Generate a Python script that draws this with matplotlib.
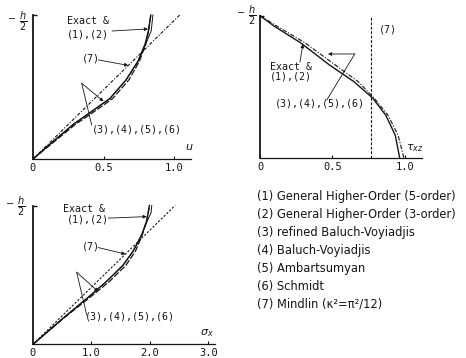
import numpy as np
import matplotlib
matplotlib.use("Agg")
import matplotlib.pyplot as plt

# Through-thickness distributions, z normalised by h/2 (0 = mid-plane, 1 = top face)

# displacement u
z_u = [0.0, 0.12, 0.24, 0.34, 0.42, 0.55, 0.68, 0.80, 0.89, 1.0]
u_exact = [0.0, 0.14, 0.285, 0.43, 0.545, 0.66, 0.745, 0.795, 0.818, 0.835]
u_12 = [0.0, 0.14, 0.285, 0.43, 0.545, 0.66, 0.745, 0.80, 0.838, 0.85]
u_3456 = [0.0, 0.15, 0.30, 0.45, 0.565, 0.68, 0.755, 0.80, 0.82, 0.835]
u_mindlin_top = 1.04

# transverse shear stress tau_xz
z_t = [1.0, 0.925, 0.81, 0.654, 0.536, 0.42, 0.30, 0.16, 0.0]
tau_exact = [0.0, 0.10, 0.28, 0.48, 0.65, 0.78, 0.87, 0.935, 0.966]
tau_3456 = [0.0, 0.12, 0.31, 0.52, 0.68, 0.79, 0.885, 0.955, 0.995]
tau_mindlin = 0.77

# bending stress sigma_x
z_s = [0.0, 0.19, 0.33, 0.45, 0.57, 0.67, 0.79, 0.885, 0.95, 1.0]
sig_exact = [0.0, 0.52, 0.92, 1.25, 1.54, 1.71, 1.86, 1.94, 1.97, 1.99]
sig_12 = [0.0, 0.52, 0.92, 1.25, 1.54, 1.71, 1.86, 1.95, 2.02, 2.03]
sig_3456 = [0.0, 0.53, 0.95, 1.30, 1.59, 1.75, 1.87, 1.94, 1.97, 1.99]
sig_mindlin_top = 2.43

legend_lines = [
    "(1) General Higher-Order (5-order)",
    "(2) General Higher-Order (3-order)",
    "(3) refined Baluch-Voyiadjis",
    "(4) Baluch-Voyiadjis",
    "(5) Ambartsumyan",
    "(6) Schmidt",
    "(7) Mindlin (\u03ba\u00b2=\u03c0\u00b2/12)",
]

INK = "#151515"
MONO = "DejaVu Sans Mono"
W, H = 466, 358


# Place an axes by its pixel box (left, top, right, bottom)
def add_axes_px(fig, left, top, right, bottom):
    return fig.add_axes([left / W, 1 - bottom / H, (right - left) / W, (bottom - top) / H])


# Bare axes: left and bottom lines, one tick at z = h/2
def setup_axes(ax, xmax, xticks, xlabels, xname, xname_pos):
    ax.set_xlim(0, xmax)
    ax.set_ylim(0, 1)
    ax.patch.set_visible(False)
    for side in ["top", "right"]:
        ax.spines[side].set_visible(False)
    ax.spines["left"].set_linewidth(1.3)
    ax.spines["bottom"].set_linewidth(0.9)
    ax.spines["left"].set_color(INK)
    ax.spines["bottom"].set_color(INK)
    ax.set_yticks([1.0])
    ax.set_yticklabels([])
    ax.tick_params(axis="y", direction="in", length=3, width=1.0, color=INK)
    ax.set_xticks(xticks)
    ax.set_xticklabels(xlabels, fontfamily=MONO, fontsize=7.5, color=INK)
    ax.tick_params(axis="x", direction="in", length=2, width=0.8, pad=3, color=INK)
    ax.text(xname_pos[0], xname_pos[1], xname, fontsize=8, color=INK, ha="left", va="center")


def note(ax, text, xy):
    ax.text(xy[0], xy[1], text, fontfamily=MONO, fontsize=7.2, color=INK, ha="left", va="center")


def arrow(ax, start, end):
    ax.annotate("", xy=end, xytext=start,
                arrowprops=dict(arrowstyle="-|>", lw=0.6, color=INK, mutation_scale=5,
                                shrinkA=0, shrinkB=0))


def plain_line(ax, start, end):
    ax.plot([start[0], end[0]], [start[1], end[1]], color=INK, lw=0.6)


# Fraction h/2 with a leading dash beside the top of a z axis
def h_half_label(fig, x, y):
    fig.text((x - 11) / W, 1 - (y - 2) / H, "\u2212", fontsize=7, color=INK, ha="center", va="center")
    fig.text(x / W, 1 - y / H, r"$\frac{h}{2}$", fontsize=10, color=INK, ha="center", va="center")


def plot_u(ax):
    setup_axes(ax, 1.12, [0, 0.5, 1.0], ["0", "0.5", "1.0"], r"$u$", (1.08, 0.08))
    kw = dict(clip_on=False)
    ax.plot([0, u_mindlin_top], [0, 1.0], color=INK, lw=0.8, ls=(0, (3, 1.5, 1, 1.5)), **kw)
    ax.plot(u_3456, z_u, color=INK, lw=0.9, ls=(0, (5, 1.5)), **kw)
    ax.plot(u_exact, z_u, color=INK, lw=1.0, **kw)
    ax.plot(u_12, z_u, color=INK, lw=0.7, **kw)

    note(ax, "Exact &", (0.239, 0.958))
    note(ax, "(1),(2)", (0.239, 0.866))
    arrow(ax, (0.56, 0.889), (0.815, 0.903))
    note(ax, "(7)", (0.345, 0.70))
    arrow(ax, (0.463, 0.688), (0.675, 0.65))
    note(ax, "(3),(4),(5),(6)", (0.416, 0.208))
    plain_line(ax, (0.416, 0.236), (0.345, 0.526))
    arrow(ax, (0.345, 0.526), (0.50, 0.40))


def plot_tau(ax):
    setup_axes(ax, 1.12, [0, 0.5, 1.0], ["0", "0.5", "1.0"], r"$\tau_{xz}$", (1.01, 0.07))
    kw = dict(clip_on=False)
    ax.plot(tau_3456, z_t, color=INK, lw=0.8, ls=(0, (4, 1.5, 1, 1.5)), **kw)
    ax.plot(tau_exact, z_t, color=INK, lw=1.0, **kw)
    ax.axvline(tau_mindlin, color=INK, lw=0.8, ls=(0, (2.5, 1.5)))

    note(ax, "(7)", (0.82, 0.90))
    note(ax, "Exact &", (0.069, 0.64))
    note(ax, "(1),(2)", (0.069, 0.57))
    arrow(ax, (0.276, 0.675), (0.297, 0.80))
    note(ax, "(3),(4),(5),(6)", (0.103, 0.38))
    plain_line(ax, (0.462, 0.408), (0.655, 0.731))
    arrow(ax, (0.655, 0.731), (0.47, 0.731))


def plot_sigma(ax):
    setup_axes(ax, 3.12, [0, 1.0, 2.0, 3.0], ["0", "1.0", "2.0", "3.0"], r"$\sigma_x$", (2.85, 0.08))
    kw = dict(clip_on=False)
    ax.plot([0, sig_mindlin_top], [0, 1.0], color=INK, lw=0.8, ls=(0, (2, 1.5)), **kw)
    ax.plot(sig_3456, z_s, color=INK, lw=0.9, ls=(0, (5, 1.5)), **kw)
    ax.plot(sig_exact, z_s, color=INK, lw=1.0, **kw)
    ax.plot(sig_12, z_s, color=INK, lw=0.7, **kw)

    note(ax, "Exact &", (0.518, 0.976))
    note(ax, "(1),(2)", (0.576, 0.90))
    arrow(ax, (1.287, 0.909), (1.944, 0.92))
    note(ax, "(7)", (0.832, 0.704))
    arrow(ax, (1.116, 0.697), (1.58, 0.65))
    note(ax, "(3),(4),(5),(6)", (0.889, 0.199))
    plain_line(ax, (0.918, 0.211), (0.747, 0.519))
    arrow(ax, (0.747, 0.519), (1.116, 0.38))


if __name__ == "__main__":
    fig = plt.figure(figsize=(W / 100, H / 100), dpi=100)
    fig.patch.set_facecolor("white")

    ax_u = add_axes_px(fig, 33, 15, 191, 159)
    ax_tau = add_axes_px(fig, 260, 15.7, 422, 158)
    ax_sig = add_axes_px(fig, 33, 205.5, 215.5, 344.3)

    plot_u(ax_u)
    plot_tau(ax_tau)
    plot_sigma(ax_sig)

    h_half_label(fig, 22.7, 20.7)
    h_half_label(fig, 252, 15)
    h_half_label(fig, 21.5, 206.5)

    # key to the numbered theories
    for i, line in enumerate(legend_lines):
        fig.text(257 / W, 1 - (196.7 + i * 17.9) / H, line, fontsize=8.3, color=INK,
                 ha="left", va="center")

    fig.savefig("out.png", dpi=100, facecolor="white")
